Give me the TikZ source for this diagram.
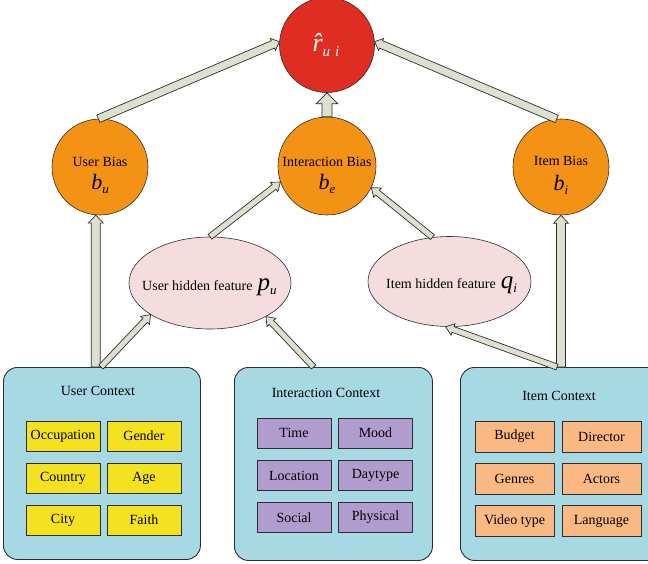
\documentclass[tikz,border=0pt]{standalone}
\usepackage{fontspec}
\setmainfont{Liberation Serif}
\usetikzlibrary{calc,shapes.geometric}

\definecolor{edge}{RGB}{45,45,45}
\definecolor{toprd}{RGB}{224,45,33}
\definecolor{biasor}{RGB}{244,146,22}
\definecolor{hidpk}{RGB}{245,221,221}
\definecolor{ctxbl}{RGB}{166,217,228}
\definecolor{cellye}{RGB}{244,226,32}
\definecolor{cellpu}{RGB}{177,157,205}
\definecolor{cellpe}{RGB}{250,185,130}
\definecolor{arrfill}{RGB}{222,224,207}

% italic symbol with lowered subscript: {size}{base}{subscript}
\newcommand\symb[3]{{\fontsize{#1}{#1}\selectfont\itshape #2}{\fontsize{13}{13}\selectfont\itshape\raisebox{-4pt}{#3}}}

% hollow block arrow from #1 to #2: shaft half width #3, head half width #4, head length #5
\newcommand\blockarrow[5]{%
  \coordinate (bah) at ($(#2)!#5!(#1)$);
  \filldraw[blockarr]
    ($(#1)!#3!90:(#2)$) -- ($(bah)!#3!90:(#2)$) -- ($(bah)!#4!90:(#2)$) -- (#2)
    -- ($(bah)!#4!-90:(#2)$) -- ($(bah)!#3!-90:(#2)$) -- ($(#1)!#3!-90:(#2)$) -- cycle;}

\begin{document}
\begin{tikzpicture}[x=1pt,y=-1pt,
  every node/.style={font=\fontsize{14}{16}\selectfont, inner sep=0pt},
  topc/.style={circle, draw=edge, line width=0.6pt, fill=toprd},
  biasc/.style={circle, draw=edge, line width=0.6pt, fill=biasor},
  hid/.style={ellipse, draw=edge, line width=0.6pt, fill=hidpk},
  ctx/.style={draw=edge, line width=0.9pt, fill=ctxbl, rounded corners=14pt, anchor=north west},
  cell/.style={draw=edge, line width=0.8pt, minimum width=74pt, minimum height=30pt},
  wcell/.style={draw=edge, line width=0.8pt, minimum width=79pt, minimum height=31pt},
  blockarr/.style={draw=edge, line width=0.7pt, fill=arrfill, line join=miter}]

\useasboundingbox (0,0) rectangle (648,563);
\begin{scope}
\clip (0,0) rectangle (648,563);

% prediction and bias circles
\node[topc, minimum size=95pt] (r) at (327,45) {};
\node[biasc, minimum size=96pt] (ub) at (100,167) {};
\node[biasc, minimum size=98pt] (ib) at (327,166) {};
\node[biasc, minimum size=96pt] (itb) at (561,167) {};

\node[text=white] (rl) at (326,45) {\fontsize{26}{26}\selectfont\itshape r^^^^0302\fontsize{15}{15}\selectfont\raisebox{-5pt}{u\,\,i}};
\node (ubl) at (100,162) {User Bias};
\node (ubs) at (100,184) {\symb{22}{b}{u}};
\node (ibl) at (327,162) {Interaction Bias};
\node (ibs) at (327,184) {\symb{22}{b}{e}};
\node (itbl) at (561,161) {Item Bias};
\node (itbs) at (561,185) {\symb{22}{b}{i}};

% hidden features
\node[hid, minimum width=162pt, minimum height=92pt] (uh) at (210,283) {};
\node[hid, minimum width=163pt, minimum height=90pt] (ih) at (449.5,281.5) {};
\node[anchor=base west] (uhl) at (142,290) {User hidden feature\hspace{5pt}\symb{25}{p}{u}};
\node[anchor=base west] (ihl) at (386,288) {Item hidden feature\hspace{5pt}\symb{25}{q}{i}};

% context panels
\node[ctx, minimum width=197pt, minimum height=192pt] (uc) at (3,367) {};
\node (uct) at (98,391) {User Context};
\node[ctx, minimum width=198pt, minimum height=193pt] (icx) at (234,367) {};
\node (icxt) at (326,393) {Interaction Context};
\node[ctx, minimum width=210pt, minimum height=193pt] (itc) at (460,367) {};
\node (itct) at (559,396) {Item Context};

% user context cells
\node[cell, fill=cellye] (c11) at (63,436) {Occupation};
\node[cell, fill=cellye] (c12) at (144,436) {Gender};
\node[cell, fill=cellye] (c21) at (63,478) {Country};
\node[cell, fill=cellye] (c22) at (144,478) {Age};
\node[cell, fill=cellye] (c31) at (63,520) {City};
\node[cell, fill=cellye] (c32) at (144,520) {Faith};

% interaction context cells
\node[cell, fill=cellpu] (i11) at (294,433) {Time};
\node[cell, fill=cellpu] (i12) at (375.5,433) {Mood};
\node[cell, fill=cellpu] (i21) at (294,475.5) {Location};
\node[cell, fill=cellpu] (i22) at (375.5,475.5) {Daytype};
\node[cell, fill=cellpu] (i31) at (294,517.5) {Social};
\node[cell, fill=cellpu] (i32) at (375.5,517.5) {Physical};

% item context cells
\node[wcell, fill=cellpe] (t11) at (514.5,436.5) {Budget};
\node[wcell, fill=cellpe] (t12) at (601.5,436.5) {Director};
\node[wcell, fill=cellpe] (t21) at (514.5,478.5) {Genres};
\node[wcell, fill=cellpe] (t22) at (601.5,478.5) {Actors};
\node[wcell, fill=cellpe] (t31) at (514.5,521) {Video type};
\node[wcell, fill=cellpe] (t32) at (601.5,521) {Language};

% connectors
\blockarrow{ub.92}{r.176}{4pt}{6.5pt}{7pt}
\blockarrow{ib.north}{r.south}{5pt}{11pt}{11pt}
\blockarrow{itb.95}{r.4}{4pt}{6.5pt}{7pt}

\coordinate (a4) at (ub.265 |- uc.north);
\blockarrow{a4}{ub.265}{4.5pt}{7.5pt}{8pt}
\coordinate (a5) at ($(uc.north)+(-1,0)$);
\blockarrow{a5}{uh.208}{3pt}{6pt}{8pt}
\coordinate (a6) at ($(icx.north west)!0.4!(icx.north east)$);
\blockarrow{a6}{uh.329}{3pt}{6pt}{8pt}
\blockarrow{uh.north}{ib.199}{3pt}{6pt}{8pt}
\blockarrow{ih.111}{ib.334}{3pt}{6pt}{8pt}

\coordinate (a9) at (itb.south |- itc.north);
\blockarrow{a9}{itb.south}{4.5pt}{7.5pt}{8pt}
\coordinate (a10) at ($(a9)+(-4,0)$);
\blockarrow{a10}{ih.265}{3pt}{6pt}{8pt}
\end{scope}
\end{tikzpicture}
\end{document}
